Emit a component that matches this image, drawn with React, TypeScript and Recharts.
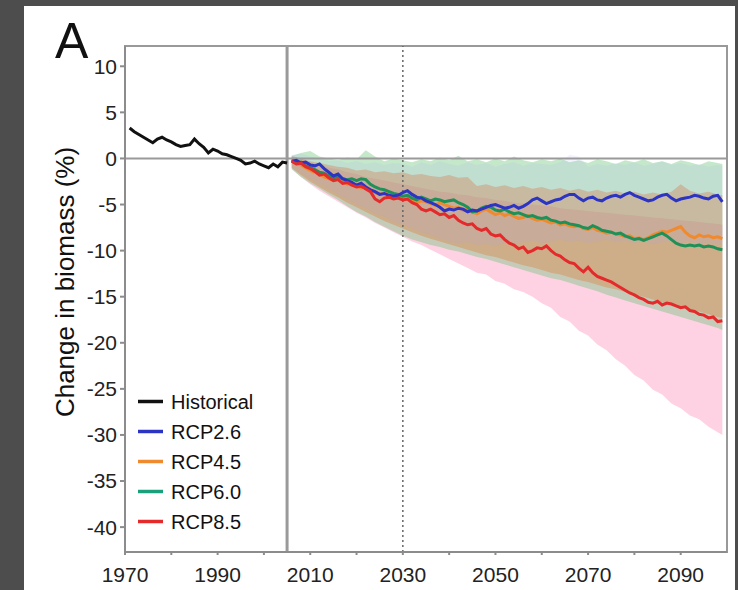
import React from "react";
import {
  ComposedChart,
  Line,
  Area,
  XAxis,
  YAxis,
  ReferenceLine,
  ReferenceArea,
} from "recharts";

const FONT = '"Liberation Sans", Arial, sans-serif';

// observed run, 1971-2005
const histYears = Array.from({ length: 35 }, (_, i) => 1971 + i);
const historical = [
  3.3, 2.9, 2.6, 2.3, 2.0, 1.7, 2.1, 2.3, 2.0, 1.8,
  1.5, 1.3, 1.4, 1.5, 2.1, 1.6, 1.2, 0.6, 1.0, 0.8,
  0.5, 0.4, 0.2, 0.0, -0.2, -0.6, -0.5, -0.3, -0.6, -0.8,
  -1.0, -0.6, -0.9, -0.4, -0.5,
];

// ensemble means, 2006-2099
const projYears = Array.from({ length: 94 }, (_, i) => 2006 + i);
const rcp26 = [
  -0.3, -0.2, -0.5, -0.4, -0.7, -0.8, -0.6, -1.1, -1.5, -1.9,
  -1.7, -2.2, -2.4, -2.6, -2.9, -2.7, -3.1, -3.4, -3.6, -3.9,
  -3.8, -4.0, -4.1, -4.0, -3.7, -3.5, -3.9, -4.2, -4.3, -4.6,
  -4.8, -5.0, -5.3, -5.7, -5.5, -5.6, -5.4, -5.5, -5.8, -5.6,
  -5.7, -5.5, -5.3, -5.1, -5.0, -5.2, -5.4, -5.3, -5.1, -5.4,
  -5.2, -4.9, -4.5, -4.3, -4.6, -4.9, -4.7, -4.5, -4.4, -4.1,
  -3.9, -3.9, -4.3, -4.6, -4.3, -4.2, -4.5, -4.6, -4.3, -4.1,
  -4.0, -4.2, -3.9, -3.7, -4.0, -4.2, -4.4, -4.6, -4.5, -4.2,
  -4.0, -3.9, -4.3, -4.6, -4.4, -4.3, -4.2, -4.0, -4.1, -4.3,
  -4.4, -4.1, -4.0, -4.7,
];
const rcp45 = [
  -0.2, -0.6, -0.7, -1.0, -1.3, -1.5, -1.7, -2.0, -2.2, -2.4,
  -2.3, -2.5, -2.8, -2.7, -3.0, -3.2, -3.1, -3.4, -3.7, -3.9,
  -3.7, -4.0, -4.2, -4.1, -4.3, -4.1, -4.4, -4.8, -4.6, -4.7,
  -4.9, -5.1, -4.8, -5.0, -5.2, -5.4, -5.3, -5.6, -5.5, -5.8,
  -6.0, -5.7, -5.5, -5.8, -6.1, -5.9, -6.2, -6.0, -6.3, -6.5,
  -6.4, -6.2, -6.5, -6.7, -6.6, -6.8, -7.0, -6.9, -7.2, -7.1,
  -7.3, -7.4, -7.3, -7.6, -7.7, -7.5, -7.8, -7.9, -8.1, -8.0,
  -8.2, -8.3, -8.5, -8.4, -8.7, -8.6, -8.8, -8.6, -8.3, -8.1,
  -7.9, -8.0, -7.8, -7.6, -7.4, -8.0, -8.4, -8.6, -8.3, -8.5,
  -8.4, -8.6, -8.5, -8.7,
];
const rcp60 = [
  -0.3, -0.5, -0.4, -0.8, -1.0, -1.2, -1.5, -1.6, -1.9, -2.1,
  -2.0, -2.2, -2.3, -2.2, -2.4, -2.2, -2.3, -2.8, -3.1, -3.3,
  -3.4, -3.6, -3.8, -3.9, -4.1, -4.0, -4.3, -4.5, -4.2, -4.4,
  -4.6, -4.4, -4.5, -4.7, -4.6, -4.5, -4.8, -5.0, -5.3, -5.8,
  -5.7, -5.4, -5.2, -5.3, -5.6, -5.7, -5.5, -5.8, -6.0, -5.9,
  -6.1, -6.3, -6.2, -6.4, -6.5, -6.4, -6.7, -6.8, -7.0, -6.9,
  -7.1, -7.2, -7.3, -7.5, -7.6, -7.3, -7.5, -7.8, -7.9, -8.0,
  -8.2, -8.1, -8.4, -8.6, -8.8, -8.7, -8.9, -8.7, -8.5, -8.3,
  -8.1, -8.4, -8.8, -9.2, -9.4, -9.5, -9.4, -9.5, -9.4, -9.6,
  -9.5, -9.6, -9.8, -9.9,
];
const rcp85 = [
  -0.3, -0.6, -0.5, -0.9, -1.1, -1.4, -1.8, -1.7, -2.1, -2.4,
  -2.3, -2.7, -2.6, -2.9, -3.1, -3.0, -3.3, -3.6, -4.4, -4.7,
  -4.3, -4.2, -4.4, -4.3, -4.5, -4.4, -4.8, -5.0, -5.5, -5.7,
  -5.5, -5.8, -6.1, -6.0, -6.4, -6.2, -6.7, -7.0, -7.2, -7.1,
  -7.6, -7.8, -7.6, -8.2, -8.4, -8.3, -8.8, -9.2, -9.4, -9.8,
  -9.6, -10.2, -10.0, -9.7, -9.8, -9.5, -10.0, -10.4, -10.6, -11.0,
  -11.3, -11.4, -11.9, -12.3, -11.8, -12.4, -12.8, -13.0, -13.2, -13.4,
  -13.7, -14.0, -14.3, -14.6, -14.8, -15.1, -15.3, -15.6, -15.7, -15.5,
  -15.9, -15.7, -15.8, -16.0, -16.2, -16.1, -16.5, -16.6, -16.9, -17.0,
  -17.3, -17.2, -17.7, -17.6,
];

// model spread (min / max), every second year plus 2099
const bandYears = [...Array.from({ length: 47 }, (_, i) => 2006 + 2 * i), 2099];
const rcp26Lo = [
  -1.0, -1.6, -2.2, -2.8, -3.3, -3.9, -4.4, -5.0, -5.4, -6.0,
  -6.3, -6.9, -7.2, -7.6, -8.0, -8.3, -8.7, -9.0, -9.2, -9.1,
  -9.4, -9.3, -9.5, -9.2, -9.4, -9.1, -8.9, -9.2, -9.0, -8.8,
  -9.1, -8.9, -9.2, -9.0, -8.8, -9.1, -8.9, -9.2, -9.0, -9.3,
  -9.1, -8.9, -9.2, -9.0, -9.3, -9.1, -9.4, -9.2,
];
const rcp26Hi = [
  0.4, 0.5, 0.2, 0.0, -0.3, -0.2, -0.5, -0.3, -0.6, -0.4,
  -0.7, -0.5, -0.6, -0.9, -0.4, -0.7, -0.3, -0.6, -0.8, -0.4,
  -0.7, -0.5, -0.9, -0.6, -0.4, -0.8, -0.5, -0.6, -0.7, -0.4,
  0.4, 0.2, -0.9, -0.6, -0.8, -0.5, -0.7, -0.4, -0.8, -0.6,
  -0.3, -0.7, -0.5, -0.8, -0.6, -0.9, -0.7, -0.8,
];
const rcp45Lo = [
  -1.0, -1.8, -2.5, -3.1, -3.7, -4.2, -4.8, -5.3, -5.8, -6.3,
  -6.8, -7.2, -7.6, -8.0, -8.4, -8.7, -9.0, -9.3, -9.6, -9.9,
  -10.2, -10.5, -10.7, -11.0, -11.3, -11.6, -11.8, -12.1, -12.4, -12.6,
  -12.9, -13.2, -13.4, -13.7, -14.0, -14.2, -14.5, -14.8, -15.0, -15.3,
  -15.6, -15.8, -16.1, -16.4, -16.6, -16.9, -17.2, -17.3,
];
const rcp45Hi = [
  0.2, 0.0, -0.3, -0.5, -0.7, -0.9, -1.0, -1.3, -1.2, -1.5,
  -1.4, -1.6, -1.5, -1.8, -1.7, -1.9, -2.0, -1.8, -2.1, -2.0,
  -3.0, -2.8, -3.1, -2.9, -3.2, -3.0, -3.3, -3.1, -3.4, -3.2,
  -3.5, -3.3, -3.6, -3.4, -3.7, -3.5, -3.8, -3.6, -3.9, -3.7,
  -3.9, -3.6, -2.8, -3.5, -3.8, -3.6, -3.9, -4.0,
];
const rcp60Lo = [
  -1.2, -2.0, -2.7, -3.3, -3.9, -4.5, -5.2, -5.8, -6.3, -6.9,
  -7.4, -7.9, -8.4, -8.8, -9.1, -9.4, -9.6, -9.9, -10.1, -10.4,
  -10.7, -10.9, -11.2, -11.5, -11.8, -12.1, -12.4, -12.7, -13.0, -13.2,
  -13.5, -13.8, -14.1, -14.4, -14.8, -15.1, -15.4, -15.7, -16.0, -16.3,
  -16.6, -16.9, -17.2, -17.5, -17.8, -18.1, -18.4, -18.6,
];
const rcp60Hi = [
  0.3, 0.6, 0.8, 0.2, 0.0, -0.2, 0.1, -0.1, 0.9, 0.2,
  -0.3, 0.0, -0.2, -0.4, -0.1, -0.3, 0.1, -0.2, 0.3, -0.3,
  -0.1, -0.4, 0.0, -0.3, 0.2, -0.2, -0.4, -0.1, -0.3, 0.0,
  -0.4, -0.2, -0.5, -0.1, -0.3, -0.6, -0.2, -0.4, -0.1, -0.5,
  -0.3, -0.6, -0.2, -0.4, -0.7, -0.3, -0.5, -0.6,
];
const rcp85Lo = [
  -1.1, -2.0, -2.8, -3.5, -4.1, -4.7, -5.3, -5.9, -6.4, -7.0,
  -7.5, -8.0, -8.5, -9.0, -9.4, -9.9, -10.4, -10.9, -11.4, -11.9,
  -12.4, -12.6, -13.3, -13.6, -14.2, -14.5, -15.0, -15.7, -16.2, -17.2,
  -17.7, -18.7, -19.2, -20.2, -20.8, -21.8, -22.5, -23.5, -24.1, -25.1,
  -25.6, -26.6, -27.1, -27.9, -28.3, -29.1, -29.7, -30.0,
];
const rcp85Hi = [
  0.3, 0.0, -0.4, -0.7, -1.0, -1.2, -1.5, -1.7, -2.0, -2.2,
  -2.4, -2.6, -2.8, -3.0, -3.2, -3.4, -3.6, -3.7, -3.9, -4.0,
  -4.2, -4.3, -4.5, -4.6, -4.8, -4.9, -5.0, -5.1, -5.2, -5.4,
  -5.5, -5.6, -5.7, -5.8, -5.9, -6.0, -6.1, -6.2, -6.3, -6.4,
  -6.5, -6.6, -6.7, -6.8, -6.9, -7.0, -7.1, -7.2,
];

const xTicks = [1970, 1980, 1990, 2000, 2010, 2020, 2030, 2040, 2050, 2060, 2070, 2080, 2090];
const yTicks = [-40, -35, -30, -25, -20, -15, -10, -5, 0, 5, 10];
const X_DOMAIN = [1970, 2100];
const Y_DOMAIN = [-42.7, 12.2];

const COLORS = {
  hist: "#111111",
  rcp26: "#2c34c4",
  rcp45: "#f08a2e",
  rcp60: "#1f9158",
  rcp85: "#e42a2a",
};

const legendItems = [
  { label: "Historical", color: COLORS.hist },
  { label: "RCP2.6", color: COLORS.rcp26 },
  { label: "RCP4.5", color: COLORS.rcp45 },
  { label: "RCP6.0", color: "#1aa07a" },
  { label: "RCP8.5", color: COLORS.rcp85 },
];

const histRows = histYears.map((year, i) => ({ year, value: historical[i] }));
const projRows = projYears.map((year, i) => ({
  year,
  rcp26: rcp26[i],
  rcp45: rcp45[i],
  rcp60: rcp60[i],
  rcp85: rcp85[i],
}));
const bandRows = bandYears.map((year, i) => ({
  year,
  rcp26: [rcp26Lo[i], rcp26Hi[i]],
  rcp45: [rcp45Lo[i], rcp45Hi[i]],
  rcp60: [rcp60Lo[i], rcp60Hi[i]],
  rcp85: [rcp85Lo[i], rcp85Hi[i]],
}));

const bands = [
  { key: "rcp85", fill: "#ff9cc0", opacity: 0.45 },
  { key: "rcp60", fill: "#5fbf70", opacity: 0.36 },
  { key: "rcp45", fill: "#dc8040", opacity: 0.4 },
  { key: "rcp26", fill: "#a0a0ff", opacity: 0.13 },
];

const tickStyle = { fill: "#222", fontSize: 21, fontFamily: FONT };

export default function App() {
  return (
    <div
      style={{
        position: "absolute",
        left: 0,
        top: 0,
        width: 738,
        height: 590,
        background: "#4d4d4d",
        overflow: "hidden",
      }}
    >
      <div
        style={{
          position: "absolute",
          left: 24,
          top: 6,
          width: 711,
          height: 584,
          background: "#ffffff",
        }}
      >
        <ComposedChart
          width={711}
          height={584}
          data={projRows}
          margin={{ top: 40, right: 8, bottom: 8, left: 41 }}
        >
          <XAxis
            type="number"
            dataKey="year"
            domain={X_DOMAIN}
            allowDataOverflow
            ticks={xTicks}
            interval={0}
            tickFormatter={(v: number) => ((v - 1970) % 20 === 0 ? String(v) : "")}
            height={30}
            stroke="#8c8c8c"
            strokeWidth={2}
            tickSize={3}
            tickMargin={12}
            tick={tickStyle}
          />
          <YAxis
            type="number"
            domain={Y_DOMAIN}
            allowDataOverflow
            ticks={yTicks}
            interval={0}
            width={60}
            stroke="#8c8c8c"
            strokeWidth={2}
            tickSize={5}
            tickMargin={3}
            tick={tickStyle}
          />
          <ReferenceArea
            x1={X_DOMAIN[0]}
            x2={X_DOMAIN[1]}
            y1={Y_DOMAIN[0]}
            y2={Y_DOMAIN[1]}
            fill="none"
            stroke="#999"
            strokeWidth={2}
          />
          {bands.map((b) => (
            <Area
              key={b.key}
              data={bandRows}
              dataKey={b.key}
              type="linear"
              stroke="none"
              fill={b.fill}
              fillOpacity={b.opacity}
              dot={false}
              activeDot={false}
              isAnimationActive={false}
            />
          ))}
          <ReferenceLine y={0} stroke="#9a9a9a" strokeWidth={2} />
          <ReferenceLine x={2005} stroke="#9a9a9a" strokeWidth={3} />
          <ReferenceLine x={2030} stroke="#666" strokeWidth={1.5} strokeDasharray="2 3" />
          <Line
            data={histRows}
            dataKey="value"
            type="linear"
            stroke={COLORS.hist}
            strokeWidth={3}
            dot={false}
            isAnimationActive={false}
          />
          <Line dataKey="rcp45" type="linear" stroke={COLORS.rcp45} strokeWidth={3} dot={false} isAnimationActive={false} />
          <Line dataKey="rcp60" type="linear" stroke={COLORS.rcp60} strokeWidth={3} dot={false} isAnimationActive={false} />
          <Line dataKey="rcp26" type="linear" stroke={COLORS.rcp26} strokeWidth={3} dot={false} isAnimationActive={false} />
          <Line dataKey="rcp85" type="linear" stroke={COLORS.rcp85} strokeWidth={3} dot={false} isAnimationActive={false} />
        </ComposedChart>
      </div>
      <svg
        width={738}
        height={590}
        style={{ position: "absolute", left: 0, top: 0, pointerEvents: "none" }}
      >
        <text x={55} y={58} fontSize={50} fontFamily={FONT} fill="#111">
          A
        </text>
        <text
          transform="translate(74,282) rotate(-90)"
          textAnchor="middle"
          fontSize={26}
          fontFamily={FONT}
          fill="#111"
        >
          Change in biomass (%)
        </text>
        {legendItems.map((item, i) => (
          <g key={item.label}>
            <line
              x1={138}
              x2={163}
              y1={401.5 + i * 30}
              y2={401.5 + i * 30}
              stroke={item.color}
              strokeWidth={3.5}
            />
            <text x={171} y={408.5 + i * 30} fontSize={20} fontFamily={FONT} fill="#111">
              {item.label}
            </text>
          </g>
        ))}
      </svg>
    </div>
  );
}
